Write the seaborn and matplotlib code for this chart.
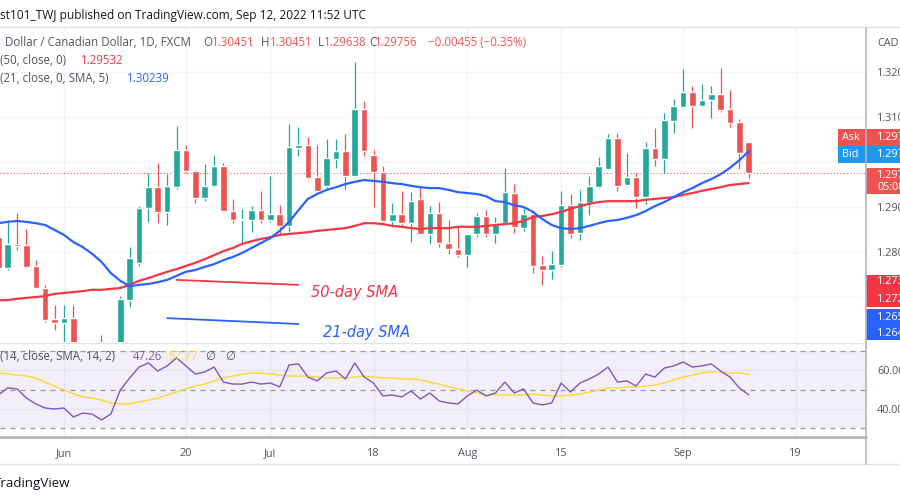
import numpy as np
import pandas as pd
import seaborn as sns
import matplotlib.pyplot as plt
from matplotlib.lines import Line2D
from matplotlib.patches import Rectangle

# daily USD/CAD candles, first one is May 23 2022
first_day = "2022-05-23"
tick_dates = ["2022-06-01", "2022-06-20", "2022-07-01", "2022-07-18",
              "2022-08-01", "2022-08-15", "2022-09-01", "2022-09-19"]
tick_labels = ["Jun", "20", "Jul", "18", "Aug", "15", "Sep", "19"]

opens = [1.2833, 1.2764, 1.2818, 1.2816, 1.2769, 1.2720, 1.2651, 1.2642, 1.2653, 1.2590,
         1.2580, 1.2565, 1.2555, 1.2570, 1.2693, 1.2776, 1.2898, 1.2944, 1.2889, 1.2944,
         1.3027, 1.2980, 1.2920, 1.2947, 1.2991, 1.2891, 1.2872, 1.2871, 1.2893, 1.2871,
         1.2884, 1.2858, 1.3031, 1.3038, 1.2967, 1.2947, 1.3007, 1.3024, 1.2969, 1.3118,
         1.3016, 1.2978, 1.2869, 1.2884, 1.2864, 1.2918, 1.2840, 1.2887, 1.2820, 1.2807,
         1.2793, 1.2840, 1.2880, 1.2840, 1.2864, 1.2931, 1.2853, 1.2884, 1.2771, 1.2760,
         1.2771, 1.2904, 1.2842, 1.2909, 1.2944, 1.2984, 1.3053, 1.2949, 1.2967, 1.2922,
         1.3031, 1.3007, 1.3091, 1.3122, 1.3156, 1.3124, 1.3138, 1.3151, 1.3118, 1.3089,
         1.30451]
highs = [1.2844, 1.2871, 1.2887, 1.2851, 1.2782, 1.2727, 1.2682, 1.2682, 1.2682, 1.2597,
         1.2596, 1.2615, 1.2595, 1.2702, 1.2811, 1.2902, 1.2976, 1.2998, 1.2973, 1.3080,
         1.3038, 1.2982, 1.2996, 1.3016, 1.2998, 1.2918, 1.2896, 1.2902, 1.2936, 1.2969,
         1.2904, 1.3084, 1.3078, 1.3056, 1.3038, 1.3051, 1.3051, 1.3062, 1.3222, 1.3136,
         1.3027, 1.2991, 1.2909, 1.2936, 1.2933, 1.2947, 1.2902, 1.2911, 1.2871, 1.2856,
         1.2842, 1.2887, 1.2893, 1.2878, 1.2987, 1.2951, 1.2898, 1.2893, 1.2791, 1.2802,
         1.2936, 1.2929, 1.2938, 1.2969, 1.3011, 1.3062, 1.3064, 1.3020, 1.2976, 1.3044,
         1.3076, 1.3109, 1.3140, 1.3207, 1.3169, 1.3173, 1.3169, 1.3209, 1.3160, 1.3096,
         1.30451]
lows = [1.2756, 1.2760, 1.2804, 1.2764, 1.2718, 1.2644, 1.2627, 1.2595, 1.2575, 1.2552,
        1.2540, 1.2530, 1.2518, 1.2560, 1.2678, 1.2770, 1.2867, 1.2864, 1.2860, 1.2940,
        1.2976, 1.2909, 1.2913, 1.2945, 1.2889, 1.2864, 1.2820, 1.2844, 1.2864, 1.2867,
        1.2840, 1.2844, 1.3013, 1.2962, 1.2933, 1.2942, 1.2987, 1.2940, 1.2967, 1.3013,
        1.2900, 1.2867, 1.2856, 1.2860, 1.2822, 1.2838, 1.2818, 1.2811, 1.2796, 1.2789,
        1.2767, 1.2833, 1.2833, 1.2820, 1.2862, 1.2842, 1.2847, 1.2753, 1.2727, 1.2740,
        1.2767, 1.2831, 1.2827, 1.2882, 1.2942, 1.2982, 1.2936, 1.2947, 1.2898, 1.2907,
        1.2991, 1.2976, 1.3064, 1.3120, 1.3076, 1.3122, 1.3098, 1.3111, 1.3078, 1.2984,
        1.29638]
closes = [1.2764, 1.2818, 1.2813, 1.2767, 1.2720, 1.2649, 1.2642, 1.2653, 1.2590, 1.2580,
          1.2565, 1.2555, 1.2570, 1.2696, 1.2787, 1.2898, 1.2944, 1.2889, 1.2947, 1.3027,
          1.2980, 1.2920, 1.2947, 1.2991, 1.2891, 1.2871, 1.2874, 1.2893, 1.2871, 1.2884,
          1.2858, 1.3033, 1.3038, 1.2964, 1.2936, 1.3009, 1.3024, 1.2969, 1.3118, 1.3024,
          1.2978, 1.2869, 1.2884, 1.2864, 1.2913, 1.2840, 1.2887, 1.2820, 1.2807, 1.2793,
          1.2840, 1.2880, 1.2840, 1.2864, 1.2933, 1.2856, 1.2884, 1.2769, 1.2760, 1.2773,
          1.2904, 1.2840, 1.2911, 1.2947, 1.2991, 1.3053, 1.2947, 1.2967, 1.2922, 1.3031,
          1.3007, 1.3093, 1.3124, 1.3156, 1.3124, 1.3138, 1.3151, 1.3116, 1.3087, 1.30211,
          1.29756]

sma50 = [1.2693, 1.2693, 1.2696, 1.2698, 1.2700, 1.2702, 1.2707, 1.2709, 1.2711, 1.2713,
         1.2716, 1.2716, 1.2718, 1.2720, 1.2727, 1.2736, 1.2742, 1.2749, 1.2756, 1.2762,
         1.2769, 1.2776, 1.2784, 1.2793, 1.2802, 1.2809, 1.2818, 1.2824, 1.2829, 1.2833,
         1.2838, 1.2840, 1.2842, 1.2844, 1.2847, 1.2849, 1.2851, 1.2853, 1.2858, 1.2864,
         1.2864, 1.2862, 1.2858, 1.2856, 1.2853, 1.2851, 1.2853, 1.2853, 1.2853, 1.2856,
         1.2856, 1.2856, 1.2858, 1.2860, 1.2862, 1.2864, 1.2869, 1.2878, 1.2880, 1.2884,
         1.2889, 1.2896, 1.2902, 1.2907, 1.2911, 1.2913, 1.2913, 1.2913, 1.2913, 1.2916,
         1.2918, 1.2920, 1.2922, 1.2927, 1.2931, 1.2936, 1.2940, 1.2944, 1.2949, 1.2951,
         1.29532]
sma21 = [1.2864, 1.2867, 1.2869, 1.2867, 1.2864, 1.2860, 1.2849, 1.2838, 1.2822, 1.2811,
         1.2796, 1.2778, 1.2753, 1.2736, 1.2724, 1.2727, 1.2729, 1.2733, 1.2738, 1.2747,
         1.2756, 1.2760, 1.2767, 1.2773, 1.2782, 1.2789, 1.2798, 1.2809, 1.2820, 1.2831,
         1.2847, 1.2867, 1.2893, 1.2918, 1.2929, 1.2938, 1.2944, 1.2951, 1.2956, 1.2960,
         1.2958, 1.2956, 1.2953, 1.2951, 1.2947, 1.2944, 1.2942, 1.2942, 1.2938, 1.2933,
         1.2931, 1.2929, 1.2924, 1.2913, 1.2911, 1.2904, 1.2900, 1.2889, 1.2873, 1.2860,
         1.2853, 1.2851, 1.2853, 1.2858, 1.2864, 1.2869, 1.2871, 1.2876, 1.2882, 1.2891,
         1.2902, 1.2911, 1.2922, 1.2933, 1.2942, 1.2953, 1.2962, 1.2973, 1.2987, 1.3004,
         1.30239]

rsi = [47.2, 50.8, 50.3, 45.6, 42.6, 40.5, 40.0, 40.5, 35.9, 37.9,
       37.4, 34.4, 37.4, 49.7, 55.9, 61.5, 63.6, 59.5, 62.1, 66.2,
       62.1, 57.9, 59.0, 61.5, 53.8, 52.8, 52.8, 53.8, 52.8, 53.3,
       51.3, 62.6, 63.1, 56.4, 54.4, 58.5, 59.5, 55.4, 63.6, 56.4,
       53.3, 46.7, 47.2, 46.2, 49.2, 45.1, 48.2, 44.1, 43.1, 42.6,
       46.7, 49.7, 46.7, 48.2, 53.8, 48.2, 50.3, 43.1, 42.1, 43.1,
       53.3, 48.7, 53.3, 55.4, 57.9, 61.5, 53.8, 54.4, 51.8, 57.9,
       56.4, 61.0, 62.1, 64.1, 61.5, 62.1, 63.1, 59.5, 56.4, 50.8,
       47.26]
rsi_ma = [58.5, 57.9, 57.4, 56.9, 55.9, 53.8, 51.8, 49.7, 47.7, 46.2,
          45.6, 44.6, 43.1, 42.6, 42.6, 43.6, 44.6, 45.6, 47.2, 48.7,
          50.3, 51.8, 52.8, 54.4, 55.9, 56.9, 57.9, 58.5, 58.5, 57.9,
          57.4, 56.9, 56.9, 56.9, 56.4, 55.9, 55.9, 55.9, 56.4, 56.9,
          56.4, 55.9, 55.9, 55.4, 55.4, 54.9, 53.8, 52.8, 51.3, 50.3,
          49.2, 48.2, 47.2, 47.2, 47.2, 47.2, 47.2, 47.7, 47.2, 46.7,
          46.7, 47.2, 47.7, 48.7, 49.7, 50.8, 50.8, 51.3, 51.3, 51.8,
          52.3, 53.3, 54.9, 56.4, 57.4, 58.5, 59.0, 59.0, 58.5, 58.5,
          57.77]

# hand drawn trend lines with their captions
note50_dates = ["2022-06-17", "2022-07-06"]
note50_prices = [1.2738, 1.2727]
note21_dates = ["2022-06-16", "2022-07-06"]
note21_prices = [1.2653, 1.2640]

GREEN = "#26a69a"
RED = "#ef5350"
SMA_RED = "#f23645"
SMA_BLUE = "#2962ff"
GRAY = "#50535e"
GRID = "#f0f3fa"

sns.set_style("white")
plt.rcParams["font.family"] = ["Open Sans", "DejaVu Sans"]

days = pd.bdate_range(first_day, "2022-09-30")
pos = np.arange(len(closes))
def at(d):
    return days.get_loc(pd.Timestamp(d))
ticks = [at(d) for d in tick_dates]

fig = plt.figure(figsize=(9, 5), dpi=100)
ax = fig.add_axes([0, 1 - 342 / 500, 866 / 900, 314 / 500])
ax_rsi = fig.add_axes([0, 1 - 437 / 500, 866 / 900, 94 / 500])

# ---- price panel
o = np.array(opens); c = np.array(closes)
cols = [GREEN if cc >= oo else RED for oo, cc in zip(o, c)]
ax.vlines(pos, lows, highs, colors=cols, lw=0.9, zorder=3)
ax.bar(pos, np.maximum(np.abs(c - o), 0.00006), bottom=np.minimum(o, c),
       width=0.7, color=cols, zorder=4)
sns.lineplot(x=pos, y=sma50, ax=ax, color=SMA_RED, lw=1.6, zorder=5)
sns.lineplot(x=pos, y=sma21, ax=ax, color=SMA_BLUE, lw=1.6, zorder=5)
ax.axhline(closes[-1], color=RED, lw=0.8, ls=(0, (1, 2)), zorder=2)

sns.lineplot(x=[at(d) for d in note50_dates], y=note50_prices, ax=ax, color=SMA_RED, lw=1.3)
sns.lineplot(x=[at(d) for d in note21_dates], y=note21_prices, ax=ax, color=SMA_BLUE, lw=1.3)
ax.text(at(note50_dates[1]) + 1.3, note50_prices[1] - 0.0016, "50-day SMA", color=SMA_RED,
        fontsize=10.5, style="italic", va="center", family=["DejaVu Sans"])
ax.text(at(note21_dates[1]) + 2.6, note21_prices[1] - 0.0018, "21-day SMA", color=SMA_BLUE,
        fontsize=10.5, style="italic", va="center", family=["DejaVu Sans"])

ax.set_xlim(0.18, 92.5)
ax.set_ylim(1.2600, 1.32978)
yt = np.round(np.arange(1.26, 1.3201, 0.01), 2)
ax.set_yticks(yt)
ax.set_yticklabels(["" if v in (1.26, 1.27, 1.30) else f"{v:.3f}" for v in yt])
ax.yaxis.tick_right()
ax.set_xticks(ticks)
ax.set_xticklabels([])
ax.tick_params(length=0, labelsize=7.8, labelcolor=GRAY, pad=8)
ax.grid(True, color=GRID, lw=1)
ax.set_xlabel(""); ax.set_ylabel("")
for s in ax.spines.values():
    s.set_visible(False)

# ---- RSI panel
ax_rsi.axhspan(30, 70, color="#7e57c2", alpha=0.09, lw=0)
for lvl in (30, 50, 70):
    ax_rsi.axhline(lvl, color="#9598a1", lw=0.9, ls=(0, (4, 4)))
sns.lineplot(x=pos, y=rsi_ma, ax=ax_rsi, color="#fdd835", lw=1.0)
sns.lineplot(x=pos, y=rsi, ax=ax_rsi, color="#7e57c2", lw=1.0)
ax_rsi.set_xlim(0.18, 92.5)
ax_rsi.set_ylim(25.64, 73.85)
ax_rsi.set_yticks([40, 60])
ax_rsi.set_yticklabels(["40.00", "60.00"])
ax_rsi.yaxis.tick_right()
ax_rsi.set_xticks(ticks)
ax_rsi.set_xticklabels(tick_labels)
ax_rsi.tick_params(length=0, labelsize=7.8, labelcolor=GRAY)
ax_rsi.tick_params(axis="x", pad=8)
ax_rsi.tick_params(axis="y", pad=8)
ax_rsi.grid(True, color=GRID, lw=1)
ax_rsi.set_xlabel(""); ax_rsi.set_ylabel("")
for s in ax_rsi.spines.values():
    s.set_visible(False)

# ---- frame lines
def fx(px):
    return px / 900
def fy(py):
    return 1 - py / 500
fig.add_artist(Line2D([0, 1], [fy(27), fy(27)], color="#e0e3eb", lw=1))
fig.add_artist(Line2D([0, fx(866)], [fy(342.5), fy(342.5)], color="#e0e3eb", lw=1))
fig.add_artist(Line2D([0, fx(866)], [fy(437), fy(437)], color="#b2b5be", lw=2))
fig.add_artist(Line2D([0, 1], [fy(464), fy(464)], color="#e0e3eb", lw=1))
fig.add_artist(Line2D([fx(866), fx(866)], [fy(28), fy(464)], color="#b2b5be", lw=1.2))

# ---- texts
fig.text(fx(0), fy(15), "st101_TWJ published on TradingView.com, Sep 12, 2022 11:52 UTC",
         fontsize=8.6, color="#131722", va="center")
fig.text(fx(-6), fy(483), "TradingView", fontsize=9.6, color="#131722", va="center")

chg = closes[-1] - closes[-2]
legend1 = [("Dollar / Canadian Dollar, 1D, FXCM", 5, GRAY),
           ("O", 203, GRAY), (f"{opens[-1]:.5f}", 212, RED),
           ("H", 261, GRAY), (f"{highs[-1]:.5f}", 270, RED),
           ("L", 318, GRAY), (f"{lows[-1]:.5f}", 324, RED),
           ("C", 369, GRAY), (f"{closes[-1]:.5f}", 375, RED),
           (f"\u2212{abs(chg):.5f} (\u2212{abs(chg) / closes[-2] * 100:.2f}%)", 428, RED)]
for txt, x, col in legend1:
    fig.text(fx(x), fy(43), txt, fontsize=8.3, color=col, va="center")
fig.text(fx(0), fy(61), "(50, close, 0)", fontsize=8.3, color=GRAY, va="center")
fig.text(fx(81), fy(61), f"{sma50[-1]:.5f}", fontsize=8.3, color=SMA_RED, va="center")
fig.text(fx(0), fy(79), "(21, close, 0, SMA, 5)", fontsize=8.3, color=GRAY, va="center")
fig.text(fx(127), fy(79), f"{sma21[-1]:.5f}", fontsize=8.3, color=SMA_BLUE, va="center")

fig.text(fx(0), fy(357), "(14, close, SMA, 14, 2)", fontsize=8.3, color=GRAY, va="center")
fig.text(fx(133), fy(357), f"{rsi[-1]:.2f}", fontsize=8.3, color="#7e57c2", va="center")
fig.text(fx(168), fy(357), f"{rsi_ma[-1]:.2f}", fontsize=8.3, color="#fdd835", va="center")
fig.text(fx(205), fy(357), "\u2205", fontsize=8.3, color=GRAY, va="center")
fig.text(fx(225), fy(357), "\u2205", fontsize=8.3, color=GRAY, va="center")
fig.text(fx(877), fy(43), "CAD", fontsize=7.8, color=GRAY, va="center")

# ---- price scale badges
def badge(y0, y1, x0, color, lines):
    fig.add_artist(Rectangle((fx(x0), fy(y1)), fx(900) - fx(x0), fy(y0) - fy(y1),
                             color=color, lw=0))
    for txt, x, y in lines:
        fig.text(fx(x), fy(y), txt, fontsize=7.8, color="white", va="center")

badge(129, 146, 838, RED, [("Ask", 842, 137.5), (f"{closes[-1] + 0.0001:.5f}", 877, 137.5)])
badge(146, 163, 838, "#2196f3", [("Bid", 842, 154.5), (f"{closes[-1]:.5f}", 877, 154.5)])
badge(168, 194, 866, RED, [(f"{closes[-1]:.5f}", 877, 175), ("05:08:07", 877, 187)])
badge(275, 307, 866, SMA_RED, [(f"{note50_prices[0]:.5f}", 877, 282), (f"{note50_prices[1]:.5f}", 877, 299)])
badge(309, 340, 866, SMA_BLUE, [(f"{note21_prices[0]:.5f}", 877, 317), (f"{note21_prices[1]:.5f}", 877, 333)])

fig.savefig("out.png", dpi=100, facecolor="white")
